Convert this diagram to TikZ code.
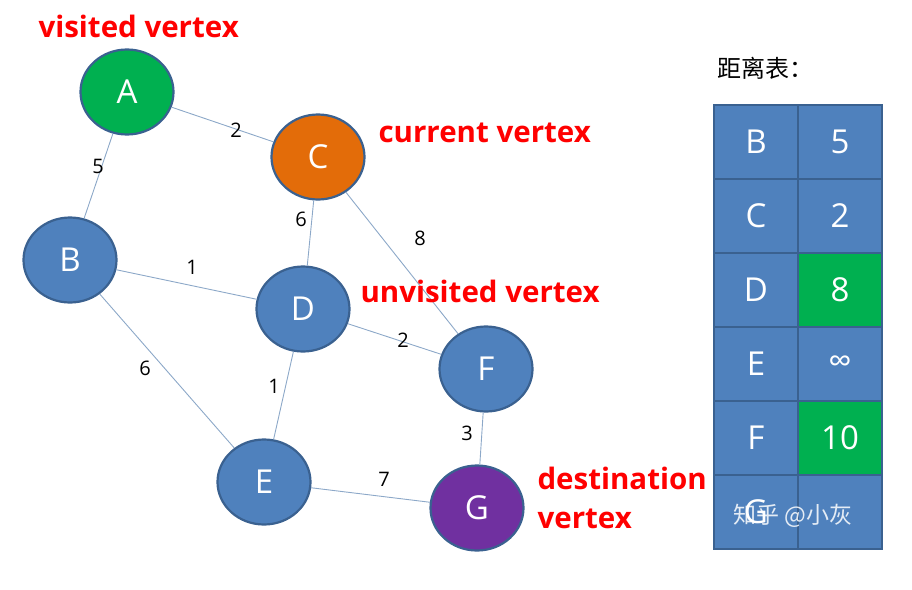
\documentclass[tikz,border=0pt]{standalone}
\usepackage{fontspec}
\setmainfont{Open Sans}
\newfontfamily\notefont{Open Sans}
\newfontfamily\cjk{Noto Sans CJK SC}
\usetikzlibrary{shapes.geometric}
\definecolor{vblue}{HTML}{4F81BD}
\definecolor{vborder}{HTML}{3A6190}
\definecolor{vgreen}{HTML}{00B050}
\definecolor{vorange}{HTML}{E36C09}
\definecolor{vpurple}{HTML}{7030A0}
\definecolor{vedge}{HTML}{8CA8C8}
\definecolor{vred}{HTML}{FF0000}
\tikzset{
  vtx/.style={ellipse, draw=vborder, line width=2.2pt, fill=vblue, minimum width=93pt, minimum height=85pt, inner sep=0pt, text=white, font=\fontsize{33}{33}\selectfont},
  edge/.style={draw=vedge, line width=0.9pt},
  wlab/.style={font=\fontsize{20}{20}\selectfont, text=black},
  note/.style={font=\notefont\bfseries\fontsize{29.5}{29.5}\selectfont, text=vred, anchor=west},
  cell/.style={draw=vborder, line width=2.5pt, fill=vblue, minimum width=84pt, minimum height=74pt, inner sep=0pt, text=white, font=\fontsize{33}{33}\selectfont},
}
\begin{document}
\begin{tikzpicture}[x=1pt,y=-1pt]
\useasboundingbox (0,0) rectangle (912,589);
% nodes
\node[vtx, fill=vgreen] (A) at (127,92) {A};
\node[vtx, fill=vorange] (C) at (318,157) {C};
\node[vtx] (B) at (70,260) {B};
\node[vtx] (D) at (303,309) {D};
\node[vtx] (F) at (486,369) {F};
\node[vtx] (E) at (264,482) {E};
\node[vtx, fill=vpurple] (G) at (477,508) {G};
% edges
\draw[edge] (A) -- (C);
\draw[edge] (A) -- (B);
\draw[edge] (C) -- (D);
\draw[edge] (C) -- (F);
\draw[edge] (B) -- (D);
\draw[edge] (B) -- (E);
\draw[edge] (D) -- (F);
\draw[edge] (D) -- (E);
\draw[edge] (F) -- (G);
\draw[edge] (E) -- (G);
% weights
\node[wlab] (wAC) at (236,130) {2};
\node[wlab] (wAB) at (98,166) {5};
\node[wlab] (wCD) at (301,219) {6};
\node[wlab] (wCF) at (420,238) {8};
\node[wlab] (wBD) at (192,267) {1};
\node[wlab] (wBE) at (145,368) {6};
\node[wlab] (wDF) at (403,340) {2};
\node[wlab] (wDE) at (274,386) {1};
\node[wlab] (wFG) at (467,433) {3};
\node[wlab] (wEG) at (384,479) {7};
% notes
\node[note] (n1) at (35,26) {visited vertex};
\node[note] (n2) at (375,133) {current vertex};
\node[note] (n3) at (357,291) {unvisited vertex};
\node[note] (n4) at (534,478) {destination};
\node[note] (n5) at (534,519) {vertex};
% table
\node[font=\cjk\fontsize{24}{24}\selectfont, anchor=west] (title) at (714,68) {距离表：};
\foreach \k/\v/\c [count=\i from 0] in {B/5/vblue, C/2/vblue, D/8/vgreen, E/∞/vblue, F/10/vgreen, G//vblue}{
  \node[cell] (k\i) at (756,142+74*\i) {\k};
  \node[cell, fill=\c] (v\i) at (840,142+74*\i) {\v};
}
\node[text=white, opacity=0.85, font=\cjk\fontsize{23}{23}\selectfont] (wm) at (793,516) {知乎 @小灰};
\end{tikzpicture}
\end{document}
